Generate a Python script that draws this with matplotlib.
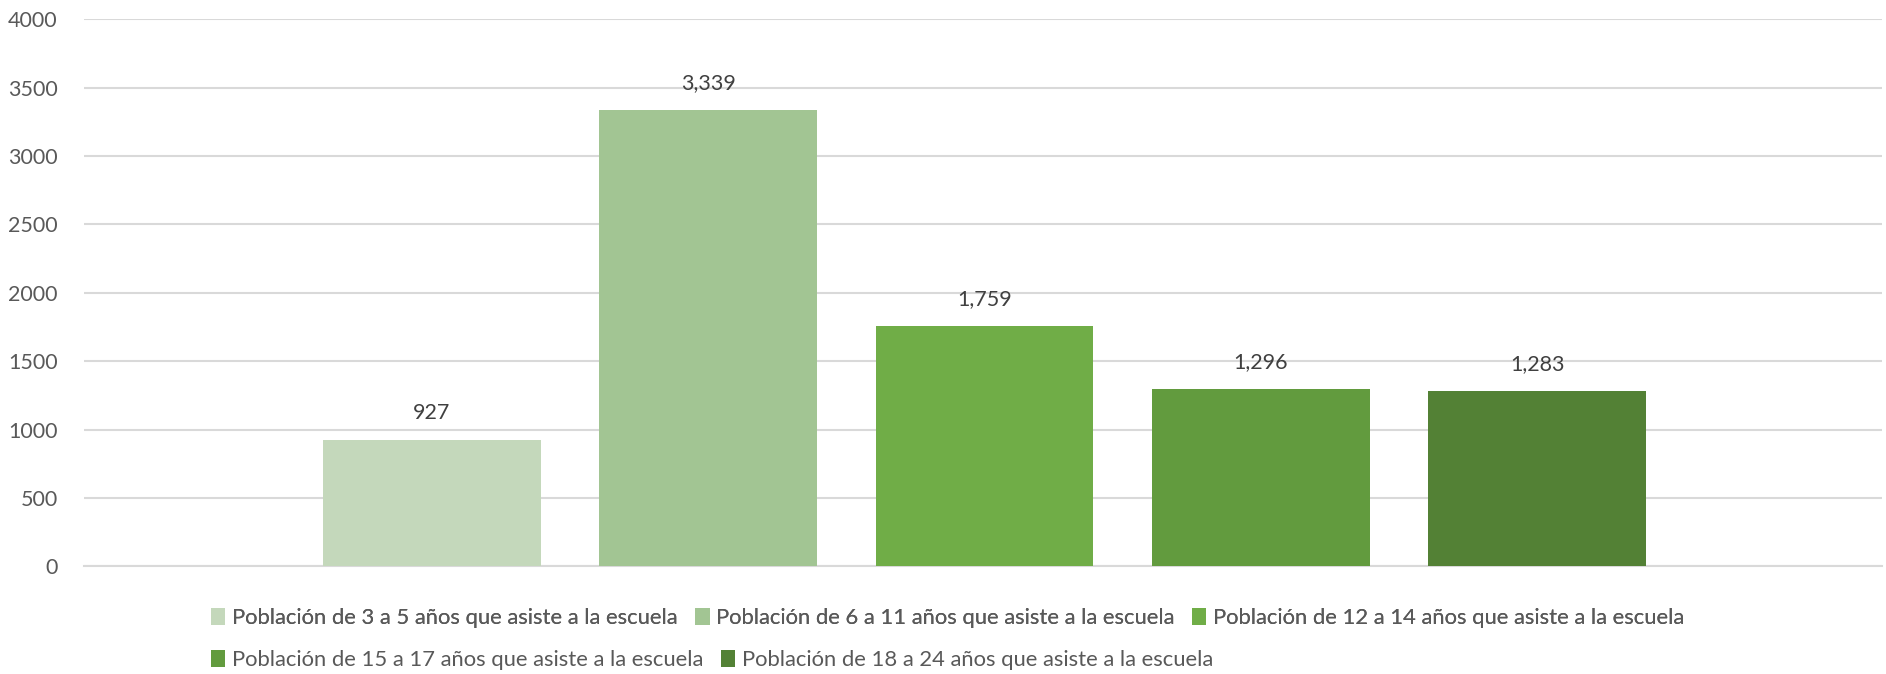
import matplotlib.pyplot as plt
from matplotlib.patches import Patch

# data
series = [
    "Población de 3 a 5 años que asiste a la escuela",
    "Población de 6 a 11 años que asiste a la escuela",
    "Población de 12 a 14 años que asiste a la escuela",
    "Población de 15 a 17 años que asiste a la escuela",
    "Población de 18 a 24 años que asiste a la escuela",
]
values = [927, 3339, 1759, 1296, 1283]
colors = ["#C4D8BB", "#A2C593", "#70AD47", "#629B3E", "#538135"]
yticks = [0, 500, 1000, 1500, 2000, 2500, 3000, 3500, 4000]

plt.rcParams['font.family'] = ['Lato', 'DejaVu Sans']

fig = plt.figure(figsize=(18.86, 6.74), dpi=100)
ax = fig.add_axes([0.0445, 0.1595, 0.9535, 0.812])

x = list(range(len(values)))
bars = ax.bar(x, values, width=0.788, color=colors, zorder=3)

for xi, v in zip(x, values):
    ax.annotate(f"{v:,}", (xi, v), xytext=(0, 12), textcoords='offset points',
                ha='center', va='bottom', fontsize=15.5, color='#404040')

ax.set_xlim(-1.259, 4 + 1.248)
ax.set_ylim(0, 4000)
ax.set_yticks(yticks)
ax.set_yticklabels([str(t) for t in yticks], fontsize=15.5, color='#595959')
ax.set_xticks([])
ax.tick_params(axis='y', length=0, pad=19)
ax.grid(axis='y', color='#D9D9D9', linewidth=1.5, zorder=0)
for s in ['top', 'right', 'left']:
    ax.spines[s].set_visible(False)
ax.spines['bottom'].set_color('#D9D9D9')
ax.spines['bottom'].set_linewidth(1.5)

# legend in two rows, left aligned like the original
handles = [Patch(facecolor=c) for c in colors]
leg_kw = dict(frameon=False, fontsize=15.8, labelcolor='#595959',
              handlelength=0.65, handleheight=0.85, handletextpad=0.3,
              columnspacing=0.8, borderaxespad=0, borderpad=0)
leg1 = fig.legend(handles[:3], series[:3], loc='center left',
                  bbox_to_anchor=(0.112, 0.083), ncol=3, **leg_kw)
fig.add_artist(leg1)
fig.legend(handles[3:], series[3:], loc='center left',
           bbox_to_anchor=(0.112, 0.021), ncol=2, **leg_kw)

fig.savefig('out.png', dpi=100)
